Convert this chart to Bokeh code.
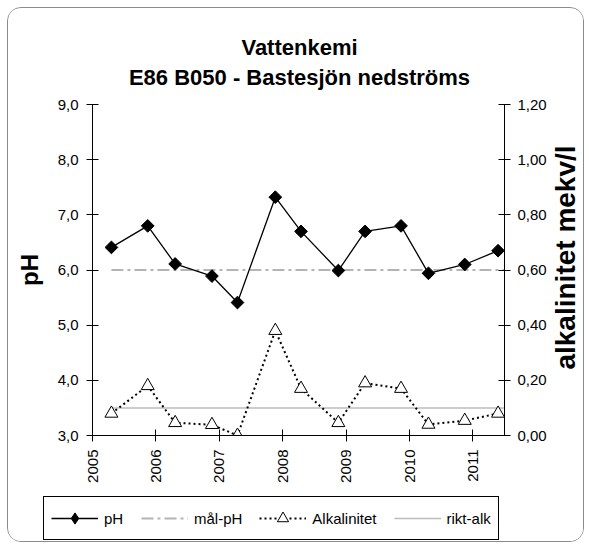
import numpy as np
import pandas as pd
from bokeh.plotting import figure
from bokeh.layouts import column, row
from bokeh.core.properties import value
from bokeh.models import (Range1d, LinearAxis, FixedTicker, CustomJSTickFormatter,
                          Legend, LegendItem)
from bokeh.embed import file_html
from bokeh.resources import INLINE

# ---------------- data ----------------
sample_dates = ["2005-04-20", "2005-11-15", "2006-04-22", "2006-11-20", "2007-04-16",
                "2007-11-20", "2008-04-16", "2008-11-17", "2009-04-20", "2009-11-13",
                "2010-04-20", "2010-11-15", "2011-05-26"]
ph_values = [6.41, 6.80, 6.11, 5.89, 5.41, 7.32, 6.70, 5.99, 6.70, 6.80, 5.94, 6.10, 6.35]
alk_values = [0.08, 0.18, 0.046, 0.039, 0.0, 0.38, 0.17, 0.046, 0.19, 0.17, 0.04, 0.054, 0.08]
mal_ph = 6.0
rikt_alk = 0.10
year_ticks = [2005, 2006, 2007, 2008, 2009, 2010, 2011]
ph_ticks = [3, 4, 5, 6, 7, 8, 9]
alk_ticks = [0.0, 0.2, 0.4, 0.6, 0.8, 1.0, 1.2]
title_lines = ["Vattenkemi", "E86 B050 - Bastesjön nedströms"]
series_names = ["pH", "mål-pH", "Alkalinitet", "rikt-alk"]
y_left_label = "pH"
y_right_label = "alkalinitet mekv/l"
x_start = "2005-01-01"
x_end = "2011-07-02"

FONT = "Liberation Sans"
W = 575                    # inner width (inside the rounded border)
H_TOP, H_MAIN, H_LEG = 84, 400, 49
W_RL = 34                  # strip for the right axis title
W_MAIN = W - W_RL
BL, BR, BT, BB = 84, 43, 12, 57

# ---------- styles ----------
PH_LINE = dict(line_color="black", line_width=1.3)
MAL_LINE = dict(line_color="#b4b4b4", line_width=2, line_dash="12 4 3 4")
ALK_LINE = dict(line_color="black", line_width=2, line_dash="2 3")
RIKT_LINE = dict(line_color="#bcbcbc", line_width=1.5)
PH_MARK = dict(fill_color="black", line_color="black")
ALK_MARK = dict(fill_color="white", line_color="black", line_width=1)


def plain(fig):
    fig.outline_line_color = None
    fig.grid.visible = False
    fig.border_fill_color = "white"
    fig.background_fill_color = "white"
    try:
        fig.frame_align = False
    except Exception:
        pass
    return fig


dates = pd.to_datetime(sample_dates)
xs = pd.Timestamp(x_start)
xe = pd.Timestamp(x_end)

# ---------- title strip ----------
tf = plain(figure(width=W, height=H_TOP, x_range=Range1d(0, W), y_range=Range1d(0, H_TOP),
                  output_backend="svg", toolbar_location=None, min_border=0,
                  x_axis_location=None, y_axis_location=None))
tf.text(x=[291, 291], y=[H_TOP - 39, H_TOP - 69], text=title_lines,
        text_align="center", text_baseline="middle", text_font=value(FONT),
        text_font_size="22px", text_font_style="bold", text_color="black")

# ---------- main plot ----------
p = plain(figure(width=W_MAIN, height=H_MAIN, x_axis_type="datetime",
                 x_range=Range1d(xs, xe), y_range=Range1d(ph_ticks[0], ph_ticks[-1]),
                 output_backend="svg", toolbar_location=None,
                 min_border_left=BL, min_border_right=BR, min_border_top=BT, min_border_bottom=BB))
p.extra_y_ranges = {"alk": Range1d(alk_ticks[0], alk_ticks[-1])}

year_ms = [pd.Timestamp(f"{y}-01-01").value / 1e6 for y in year_ticks]
xa = p.xaxis[0]
xa.ticker = FixedTicker(ticks=year_ms)
xa.formatter = CustomJSTickFormatter(code="return String(new Date(tick).getUTCFullYear());")
xa.major_label_orientation = np.pi / 2

ya = p.yaxis[0]
ya.ticker = FixedTicker(ticks=ph_ticks)
ya.formatter = CustomJSTickFormatter(code="return tick.toFixed(1).replace('.', ',');")
ya.axis_label = y_left_label
ya.axis_label_text_font = FONT
ya.axis_label_text_font_size = "24px"
ya.axis_label_text_font_style = "bold"
ya.axis_label_text_color = "black"
ya.axis_label_standoff = 12

ra = LinearAxis(y_range_name="alk", ticker=FixedTicker(ticks=alk_ticks),
                formatter=CustomJSTickFormatter(code="return tick.toFixed(2).replace('.', ',');"))
p.add_layout(ra, "right")

for ax in [xa, ya, ra]:
    ax.axis_line_color = "black"
    ax.axis_line_width = 1
    ax.major_tick_line_color = "black"
    ax.major_tick_in = 6
    ax.major_tick_out = 6
    ax.minor_tick_line_color = None
    ax.major_label_text_font = FONT
    ax.major_label_text_font_size = "15px"
    ax.major_label_text_color = "black"
    ax.major_label_standoff = 8
ra.major_label_standoff = 7

ref_x = [dates[0], xe]
p.line(ref_x, [mal_ph, mal_ph], **MAL_LINE)
p.line(ref_x, [rikt_alk, rikt_alk], y_range_name="alk", **RIKT_LINE)
p.line(dates, alk_values, y_range_name="alk", **ALK_LINE)
p.line(dates, ph_values, **PH_LINE)
p.scatter(dates, ph_values, marker="square", angle=np.pi / 4, size=9, **PH_MARK)
p.scatter(dates, alk_values, y_range_name="alk", marker="triangle", size=13, **ALK_MARK)

# ---------- right axis title strip ----------
rf = plain(figure(width=W_RL, height=H_MAIN, x_range=Range1d(0, W_RL), y_range=Range1d(0, H_MAIN),
                  output_backend="svg", toolbar_location=None, min_border=0,
                  x_axis_location=None, y_axis_location=None))
rf.text(x=[16], y=[H_MAIN - 165], text=[y_right_label], angle=np.pi / 2,
        text_align="center", text_baseline="middle", text_font=value(FONT),
        text_font_size="28px", text_font_style="bold", text_color="black")

# ---------- legend strip ----------
lf = plain(figure(width=W, height=H_LEG, x_range=Range1d(0, 1), y_range=Range1d(0, 1),
                  output_backend="svg", toolbar_location=None, min_border=0,
                  x_axis_location=None, y_axis_location=None))
# legend samples reuse the series (they fall outside this strip's ranges)
l_ph = lf.line(dates, ph_values, **PH_LINE)
m_ph = lf.scatter(dates, ph_values, marker="diamond", size=13, **PH_MARK)
l_mal = lf.line(ref_x, [mal_ph, mal_ph], **MAL_LINE)
l_alk = lf.line(dates, alk_values, **ALK_LINE)
m_alk = lf.scatter(dates, alk_values, marker="triangle", size=13, **ALK_MARK)
l_rikt = lf.line(ref_x, [rikt_alk, rikt_alk], **RIKT_LINE)

legend = Legend(items=[LegendItem(label=series_names[0], renderers=[l_ph, m_ph]),
                       LegendItem(label=series_names[1], renderers=[l_mal]),
                       LegendItem(label=series_names[2], renderers=[l_alk, m_alk]),
                       LegendItem(label=series_names[3], renderers=[l_rikt])],
                orientation="horizontal", location=(35, 1),
                border_line_color="black", border_line_width=1, border_line_alpha=1,
                padding=7, spacing=17, glyph_width=47, glyph_height=28, label_standoff=6,
                label_text_font=FONT, label_text_font_size="15px", label_text_color="black",
                background_fill_color="white", background_fill_alpha=1, margin=0)
lf.add_layout(legend)

layout = column(tf, row(p, rf), lf)
layout.margin = (7, 5, 4, 7)
layout.styles = {"border": "1px solid #8a8a8a", "border-radius": "14px", "overflow": "hidden"}

open("out.html", "w").write(file_html(layout, INLINE))
